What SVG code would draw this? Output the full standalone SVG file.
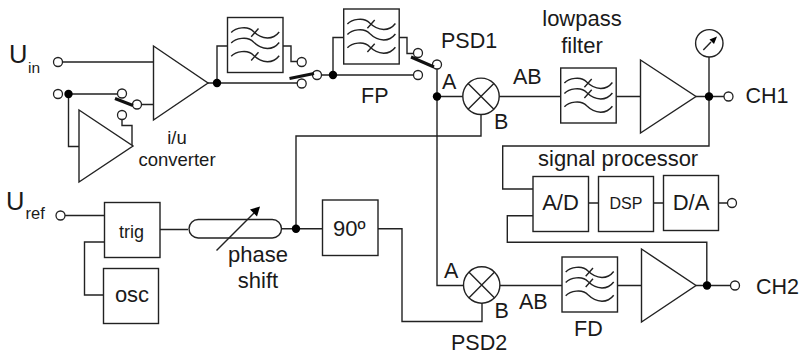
<svg xmlns="http://www.w3.org/2000/svg" width="802" height="355" viewBox="0 0 802 355">
<style>
text{font-family:"Liberation Sans",Arial,sans-serif;font-size:21.500px;fill:#1a1a1a}
.m{text-anchor:middle}
.lc{font-size:22px}
.big{font-size:25.500px}
.w{fill:#fff;stroke:#222;stroke-width:1.4}
.l{fill:none;stroke:#222;stroke-width:1.4}
.c{fill:#fff;stroke:#222;stroke-width:1.3}
.d{fill:#000;stroke:none}
.b{stroke:#111;stroke-width:3;fill:none}
.f{fill:none;stroke:#222;stroke-width:1.4}
.h{fill:#000;stroke:none}
</style>
<defs>
<path id="wave" class="f" d="M3.700 15C8 10.500 20 7.500 26 14C30 18 34 20 40 20.500C45 20.500 49 18 51.700 14.500"/>
<g id="f13">
<rect class="w" width="55.500" height="55"/>
<use href="#wave"/><use href="#wave" y="10.500"/><use href="#wave" y="23.700"/>
<path class="f" d="M23.700 19.300L31 11M23.700 43L31 34.700"/>
</g>
<g id="f12">
<rect class="w" width="55.500" height="55"/>
<use href="#wave"/><use href="#wave" y="10.500"/><use href="#wave" y="23.700"/>
<path class="f" d="M23.700 19.300L31 11M23.700 30L31 21.700"/>
</g>
<circle id="o" class="c" r="4.500"/>
<circle id="dot" class="d" r="4.200"/>
<g id="mix"><circle class="w" r="18.200"/><path class="l" d="M-12.900-12.900L12.900 12.900M-12.900 12.900L12.900-12.900"/></g>
</defs>
<g id="connectors">
<path class="l" d="M62 62H153.500M68.500 94H118M68.500 94V146.500H79M141 104.500H153.500M122 119.500V125.500H132V146"/>
<path class="l" d="M208 83H297M217 83V46H227.500M283 46H291V61.500H297.500"/>
<path class="l" d="M321 75H414M333 75V37.500H344M399 37.500H407V53.500H414"/>
<path class="l" d="M437 69V285.500H463.500M437 96.500H463M499 96.500H561M616.500 96.500H640.500M696 96.500H724M709 57V146H502.700V189H533"/>
<path class="l" d="M481 114.500V136H296V228.700M160 229.500H188M282 228.700H322.500M378 228.700H402V321.500H482V303"/>
<path class="l" d="M65 215.500H104.500M104.500 242H84.500V295H103.500"/>
<path class="l" d="M533 215.700H507.300V242.300H706.800V285.500M588.500 203H598.500M653.500 203H663.500M718.500 203H728"/>
<path class="l" d="M499.800 285.500H562M617.500 285.500H641.500M696 285.500H731"/>
</g>
<g id="uin"><use href="#o" x="58" y="62"/><text class="big" x="9" y="63">U</text><text x="28" y="72.500" style="font-size:15.500px">in</text></g>
<g id="uin2"><use href="#o" x="58" y="94"/><use href="#dot" x="68.500" y="94"/></g>
<g id="sw1"><use href="#o" x="122" y="93.500"/><use href="#o" x="122" y="115"/><use href="#o" x="137" y="104.500"/><path class="b" d="M115 98.500L133 105.500"/></g>
<g id="amp1"><path class="w" d="M153.500 46L208 83L153.500 120Z"/><use href="#dot" x="217" y="83"/></g>
<g id="iu"><path class="w" d="M79 110L133 146L79 182Z"/><text class="m" x="177" y="144" style="font-size:18.500px">i/u</text><text class="m" x="177" y="166" style="font-size:18.500px">converter</text></g>
<g id="filter1"><use href="#f13" x="227.500" y="17.500"/></g>
<g id="sw2"><use href="#o" x="301.700" y="62"/><use href="#o" x="301.700" y="83.500"/><use href="#o" x="317" y="75"/><path class="b" d="M289.500 78.500L314 73.500"/><use href="#dot" x="333" y="75"/></g>
<g id="filter2"><use href="#f13" x="343.700" y="9"/><text x="361" y="102.500">FP</text></g>
<g id="sw3"><use href="#o" x="418" y="53"/><use href="#o" x="418" y="75"/><use href="#o" x="437" y="64.500"/><path class="b" d="M411 57L434 67"/><use href="#dot" x="437" y="96.500"/><text x="441" y="47.500">PSD1</text></g>
<g id="psd1"><use href="#mix" x="481" y="96.300"/><text x="442" y="89">A</text><text x="494" y="129">B</text><text x="513" y="84">AB</text></g>
<g id="lowpass"><use href="#f12" x="560.700" y="68"/><text class="m lc" x="582" y="26">lowpass</text><text class="m lc" x="582" y="53">filter</text></g>
<g id="amp2"><path class="w" d="M640.500 60L696 96.500L640.500 133Z"/><use href="#dot" x="709" y="96.500"/></g>
<g id="ch1"><use href="#o" x="728.500" y="96.500"/><text x="745.500" y="103">CH1</text></g>
<g id="meter"><circle class="w" cx="709.300" cy="43.300" r="13.700"/><path class="l" d="M703.300 50L711 42"/><path class="h" d="M717 36.500L709.500 39.500L714 44Z"/></g>
<text id="sp" class="lc" x="538" y="166">signal processor</text>
<g id="ad"><rect class="w" x="533" y="176.500" width="55.500" height="55"/><text class="m lc" x="560.500" y="209.500">A/D</text></g>
<g id="dsp"><rect class="w" x="598.500" y="176.500" width="55" height="55"/><text class="m" x="626" y="209" style="font-size:16px">DSP</text></g>
<g id="da"><rect class="w" x="663.500" y="175.500" width="55" height="55"/><text class="m lc" x="691" y="209.500">D/A</text><use href="#o" x="732" y="203"/></g>
<g id="uref"><use href="#o" x="60.500" y="215.500"/><text class="big" x="6" y="210">U</text><text x="25.500" y="219" style="font-size:16.500px">ref</text></g>
<g id="trig"><rect class="w" x="104.500" y="202.500" width="55.500" height="55"/><text class="m" x="131.500" y="237.500" style="font-size:18px">trig</text></g>
<g id="osc"><rect class="w" x="103.500" y="268.500" width="55" height="55"/><text class="m lc" x="132" y="301.500">osc</text></g>
<g id="phase"><rect class="w" x="189" y="219.500" width="92.500" height="18.500" rx="9.200"/><path class="l" d="M216.500 250.500L254 213"/><path class="h" d="M260 206.500L250 209.500L257 216.500Z"/><text class="m lc" x="258" y="262">phase</text><text class="m lc" x="258" y="288">shift</text><use href="#dot" x="296" y="228.700"/></g>
<g id="deg90"><rect class="w" x="322.500" y="200" width="55.500" height="55.500"/><text class="lc" x="333" y="236">90º</text></g>
<g id="psd2"><use href="#mix" x="481.700" y="285"/><text x="444" y="278">A</text><text x="494.500" y="318">B</text><text x="519" y="309">AB</text><text x="451" y="350">PSD2</text></g>
<g id="fd"><use href="#f12" x="562" y="257"/><text x="574" y="336">FD</text></g>
<g id="amp3"><path class="w" d="M641.500 249L696 285.500L641.500 322Z"/><use href="#dot" x="707" y="285.500"/></g>
<g id="ch2"><use href="#o" x="735" y="285.500"/><text x="756" y="294">CH2</text></g>
</svg>
